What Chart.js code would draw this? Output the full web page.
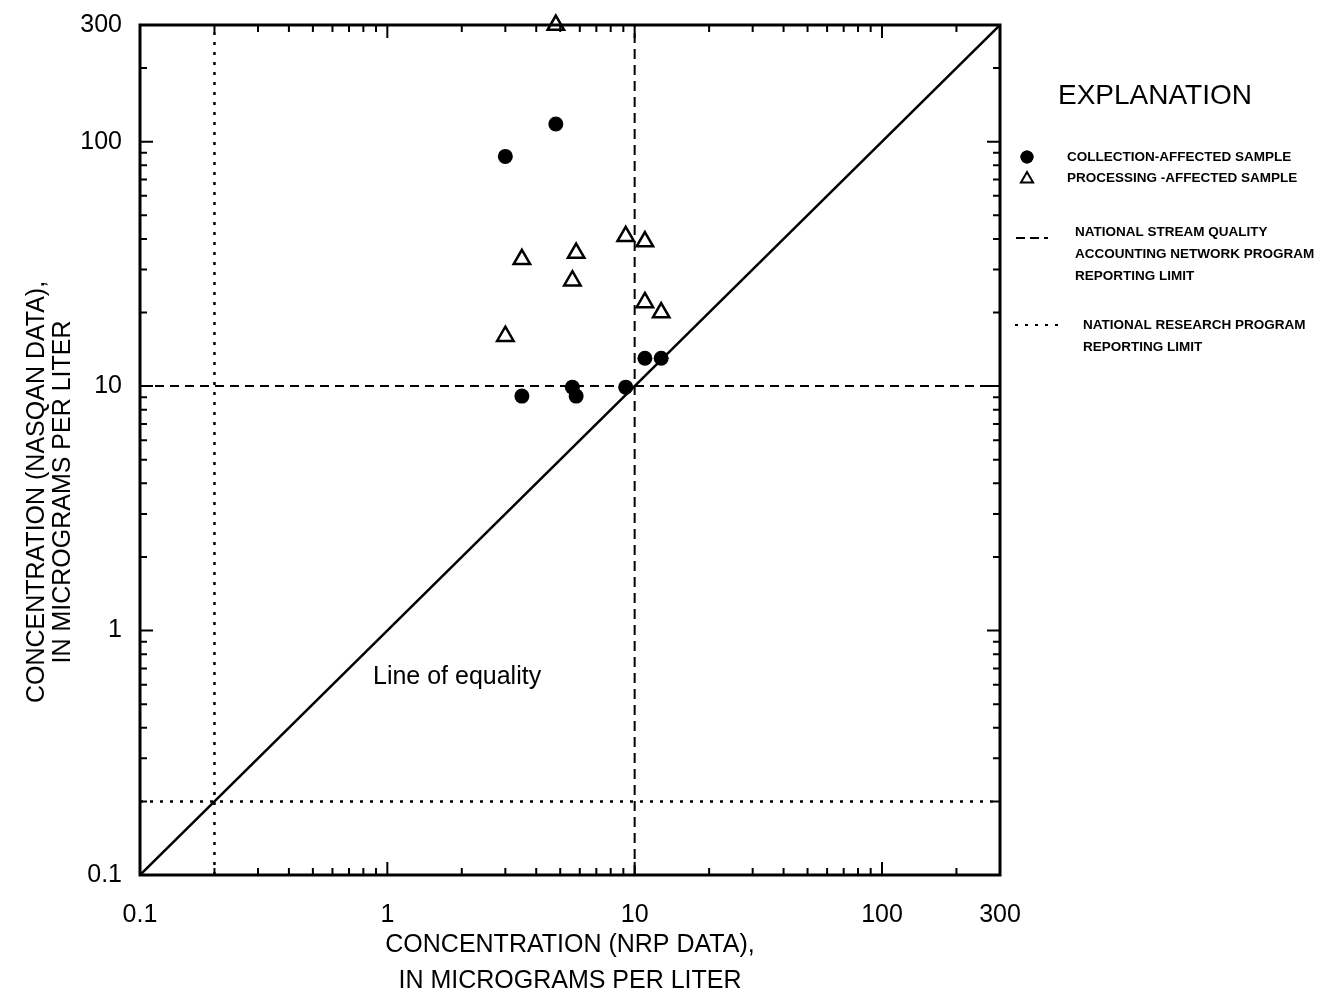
<!DOCTYPE html>
<html>
<head>
<meta charset="utf-8">
<script src="https://cdn.jsdelivr.net/npm/chart.js@4.4.1/dist/chart.umd.min.js"></script>
<style>
  html, body { margin: 0; padding: 0; background: #fff; }
  #wrap { width: 1340px; height: 999px; position: relative; }
</style>
</head>
<body>
<div id="wrap"><canvas id="chart" width="1340" height="999"></canvas></div>
<script>
// Axis ticks (log scale, micrograms per liter)
const majorTicks = [0.1, 1, 10, 100, 300];
const minorTicks = [0.2, 0.3, 0.4, 0.5, 0.6, 0.7, 0.8, 0.9,
                    2, 3, 4, 5, 6, 7, 8, 9,
                    20, 30, 40, 50, 60, 70, 80, 90, 200];
const decadeTicks = [1, 10, 100];

// Collection-affected samples (filled circles)
const collectionNrp    = [3.0, 4.8, 3.5, 5.6, 5.8, 9.2, 11.0, 12.8];
const collectionNasqan = [87, 118, 9.1, 9.9, 9.1, 9.9, 13.0, 13.0];

// Processing-affected samples (open triangles)
const processingNrp    = [4.8, 3.5, 3.0, 5.6, 5.8, 9.2, 11.0, 11.0, 12.8];
const processingNasqan = [300, 33, 16, 27, 35, 41, 39, 22, 20];

// Reporting limits
const nasqanLimit = 10;
const nrpLimit = 0.2;
const axisMin = 0.1;
const axisMax = 300;

const FONT = "Arial, 'Liberation Sans', Helvetica, sans-serif";

function toPoints(xs, ys) {
  return xs.map((x, i) => ({ x: x, y: ys[i] }));
}

// Frame, inward tick marks, y title, line label and explanation box
const decorPlugin = {
  id: 'decor',
  afterDraw(chart) {
    const ctx = chart.ctx;
    const a = chart.chartArea;
    const xs = chart.scales.x;
    const ys = chart.scales.y;
    ctx.save();
    ctx.strokeStyle = '#000';
    ctx.fillStyle = '#000';

    // ticks
    ctx.lineWidth = 2;
    const drawTicks = (vals, len) => {
      vals.forEach(v => {
        const px = xs.getPixelForValue(v);
        const py = ys.getPixelForValue(v);
        ctx.beginPath();
        ctx.moveTo(px, a.bottom); ctx.lineTo(px, a.bottom - len);
        ctx.moveTo(px, a.top); ctx.lineTo(px, a.top + len);
        ctx.moveTo(a.left, py); ctx.lineTo(a.left + len, py);
        ctx.moveTo(a.right, py); ctx.lineTo(a.right - len, py);
        ctx.stroke();
      });
    };
    drawTicks(minorTicks, 7);
    drawTicks(decadeTicks, 13);

    // frame
    ctx.lineWidth = 3;
    ctx.strokeRect(a.left, a.top, a.right - a.left, a.bottom - a.top);

    // y axis title
    ctx.font = '25px ' + FONT;
    ctx.textAlign = 'center';
    ctx.textBaseline = 'middle';
    ctx.save();
    ctx.translate(0, 492);
    ctx.rotate(-Math.PI / 2);
    ctx.fillText('CONCENTRATION (NASQAN DATA),', 0, 37);
    ctx.fillText('IN MICROGRAMS PER LITER', 0, 63);
    ctx.restore();

    // line label
    ctx.textAlign = 'left';
    ctx.fillText('Line of equality', 373, 677);

    // explanation
    ctx.font = '28px ' + FONT;
    ctx.fillText('EXPLANATION', 1058, 96);

    ctx.font = 'bold 13.5px ' + FONT;
    ctx.fillText('COLLECTION-AFFECTED SAMPLE', 1067, 157);
    ctx.fillText('PROCESSING -AFFECTED SAMPLE', 1067, 178);
    ctx.fillText('NATIONAL STREAM QUALITY', 1075, 232);
    ctx.fillText('ACCOUNTING NETWORK PROGRAM', 1075, 254);
    ctx.fillText('REPORTING LIMIT', 1075, 276);
    ctx.fillText('NATIONAL RESEARCH PROGRAM', 1083, 325);
    ctx.fillText('REPORTING LIMIT', 1083, 347);

    Chart.helpers.drawPoint(ctx, { pointStyle: 'circle', radius: 6.5, borderWidth: 0 }, 1027, 157);
    ctx.fill();
    ctx.fillStyle = '#fff';
    ctx.lineWidth = 2;
    Chart.helpers.drawPoint(ctx, { pointStyle: 'triangle', radius: 7, borderWidth: 2 }, 1027, 179);

    ctx.lineWidth = 2;
    ctx.setLineDash([9, 5]);
    ctx.beginPath(); ctx.moveTo(1016, 238); ctx.lineTo(1048, 238); ctx.stroke();
    ctx.setLineDash([3, 7]);
    ctx.beginPath(); ctx.moveTo(1015, 325); ctx.lineTo(1062, 325); ctx.stroke();
    ctx.restore();
  }
};

new Chart(document.getElementById('chart'), {
  type: 'scatter',
  data: {
    datasets: [
      {
        label: 'Collection-affected sample',
        data: toPoints(collectionNrp, collectionNasqan),
        pointStyle: 'circle',
        pointRadius: 7.5,
        backgroundColor: '#000',
        borderColor: '#000',
        borderWidth: 0,
        order: 1
      },
      {
        label: 'Processing-affected sample',
        data: toPoints(processingNrp, processingNasqan),
        pointStyle: 'triangle',
        pointRadius: 9.5,
        backgroundColor: '#fff',
        borderColor: '#000',
        borderWidth: 2.5,
        clip: 14,
        order: 2
      },
      {
        label: 'Line of equality',
        data: [{ x: axisMin, y: axisMin }, { x: axisMax, y: axisMax }],
        showLine: true,
        pointRadius: 0,
        borderColor: '#000',
        borderWidth: 2.5,
        order: 3
      },
      {
        label: 'NASQAN reporting limit (x)',
        data: [{ x: nasqanLimit, y: axisMin }, { x: nasqanLimit, y: axisMax }],
        showLine: true,
        pointRadius: 0,
        borderColor: '#000',
        borderWidth: 2,
        borderDash: [10, 6],
        order: 4
      },
      {
        label: 'NASQAN reporting limit (y)',
        data: [{ x: axisMin, y: nasqanLimit }, { x: axisMax, y: nasqanLimit }],
        showLine: true,
        pointRadius: 0,
        borderColor: '#000',
        borderWidth: 2,
        borderDash: [9, 6],
        order: 4
      },
      {
        label: 'NRP reporting limit (x)',
        data: [{ x: nrpLimit, y: axisMin }, { x: nrpLimit, y: axisMax }],
        showLine: true,
        pointRadius: 0,
        borderColor: '#000',
        borderWidth: 2.5,
        borderDash: [3, 7],
        order: 5
      },
      {
        label: 'NRP reporting limit (y)',
        data: [{ x: axisMin, y: nrpLimit }, { x: axisMax, y: nrpLimit }],
        showLine: true,
        pointRadius: 0,
        borderColor: '#000',
        borderWidth: 2.5,
        borderDash: [3, 7],
        order: 5
      }
    ]
  },
  options: {
    responsive: false,
    animation: false,
    layout: { padding: { left: 0, right: 340, top: 18, bottom: 0 } },
    plugins: {
      legend: { display: false },
      tooltip: { enabled: false }
    },
    scales: {
      x: {
        type: 'logarithmic',
        min: axisMin,
        max: axisMax,
        afterBuildTicks: s => { s.ticks = majorTicks.map(v => ({ value: v })); },
        afterFit: s => { s.height = 124; },
        grid: { display: false },
        border: { display: false },
        ticks: {
          color: '#000',
          padding: 17,
          autoSkip: false,
          maxRotation: 0,
          font: { family: FONT, size: 25 },
          callback: v => String(v)
        },
        title: {
          display: true,
          text: ['CONCENTRATION (NRP DATA),', 'IN MICROGRAMS PER LITER'],
          color: '#000',
          font: { family: FONT, size: 25, lineHeight: 1.45 },
          padding: { top: 0, bottom: 0 }
        }
      },
      y: {
        type: 'logarithmic',
        min: axisMin,
        max: axisMax,
        afterBuildTicks: s => { s.ticks = majorTicks.map(v => ({ value: v })); },
        afterFit: s => { s.width = 140; },
        grid: { display: false },
        border: { display: false },
        ticks: {
          color: '#000',
          padding: 10,
          autoSkip: false,
          font: { family: FONT, size: 25 },
          callback: v => String(v)
        }
      }
    }
  },
  plugins: [decorPlugin]
});
</script>
</body>
</html>
